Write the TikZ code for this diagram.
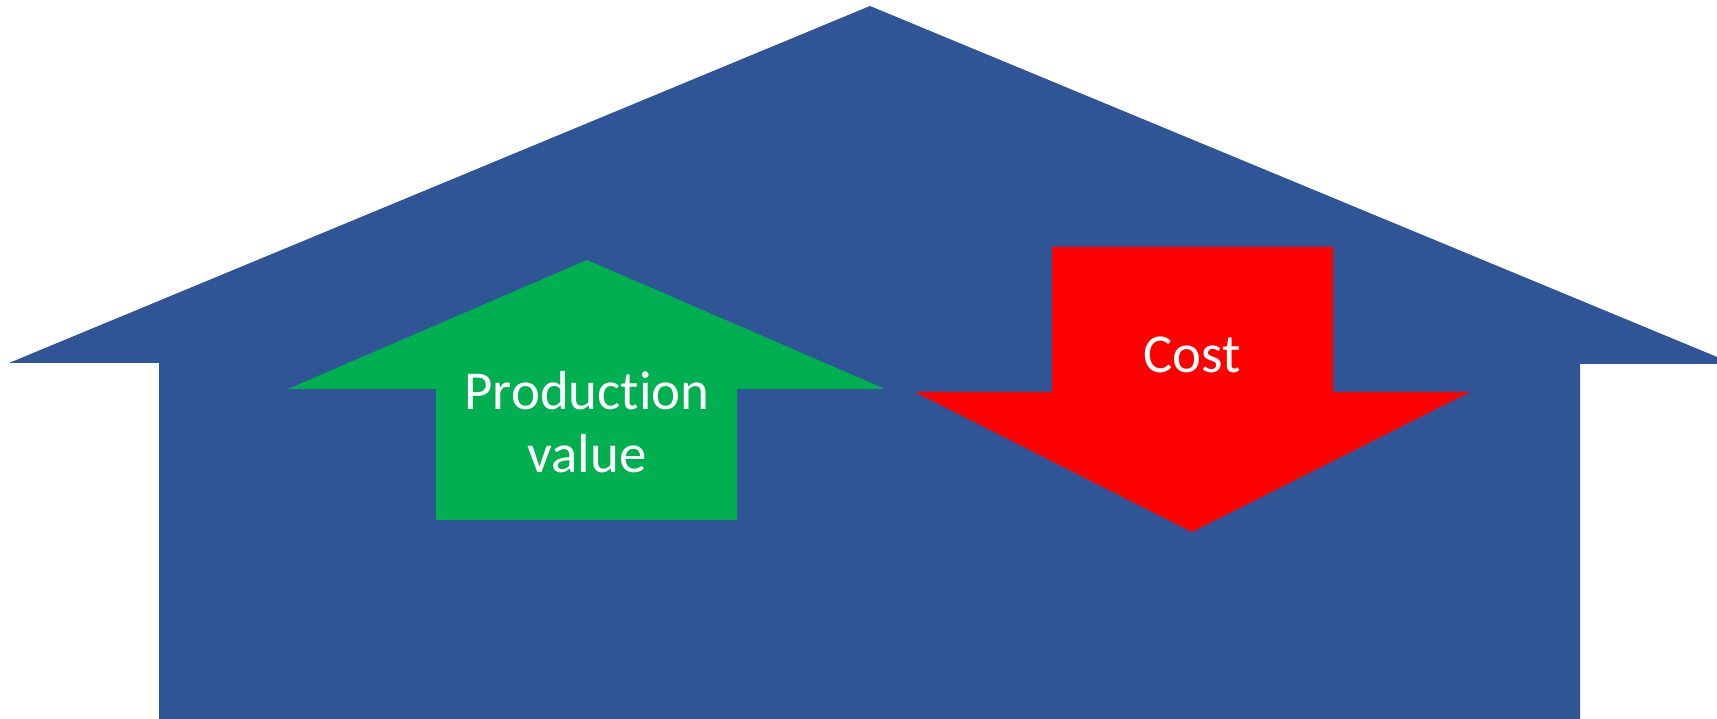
\documentclass[tikz,border=0pt]{standalone}
\usepackage{fontspec}
\setmainfont{Carlito}[Ligatures={NoCommon}]
\usepackage{xcolor}
\definecolor{houseblue}{HTML}{2F5597}
\definecolor{upgreen}{HTML}{00B050}
\definecolor{downred}{HTML}{FF0000}

\begin{document}
\begin{tikzpicture}[x=0.01cm, y=-0.01cm]
	\useasboundingbox (0,0) rectangle (1717,719);
	% house
	\fill[houseblue] (9,363) -- (870,6) -- (1734,364) -- (1580,364) -- (1580,719) -- (159,719) -- (159,363) -- cycle;
	% up arrow
	\fill[upgreen] (587,260) -- (885,389) -- (737,389) -- (737,520) -- (436,520) -- (436,389) -- (288,389) -- cycle;
	% down arrow
	\fill[downred] (1052,247) -- (1333,247) -- (1333,392) -- (1470,392) -- (1192,532) -- (915,392) -- (1052,392) -- cycle;
	\node[anchor=base, white, font=\fontsize{15.6pt}{18pt}\selectfont] (prod) at (587,410) {Production};
	\node[anchor=base, white, font=\fontsize{15.6pt}{18pt}\selectfont] (val) at (587,473) {value};
	\node[anchor=base, white, font=\fontsize{15.6pt}{18pt}\selectfont] (cost) at (1192,373) {Cost};
\end{tikzpicture}
\end{document}
